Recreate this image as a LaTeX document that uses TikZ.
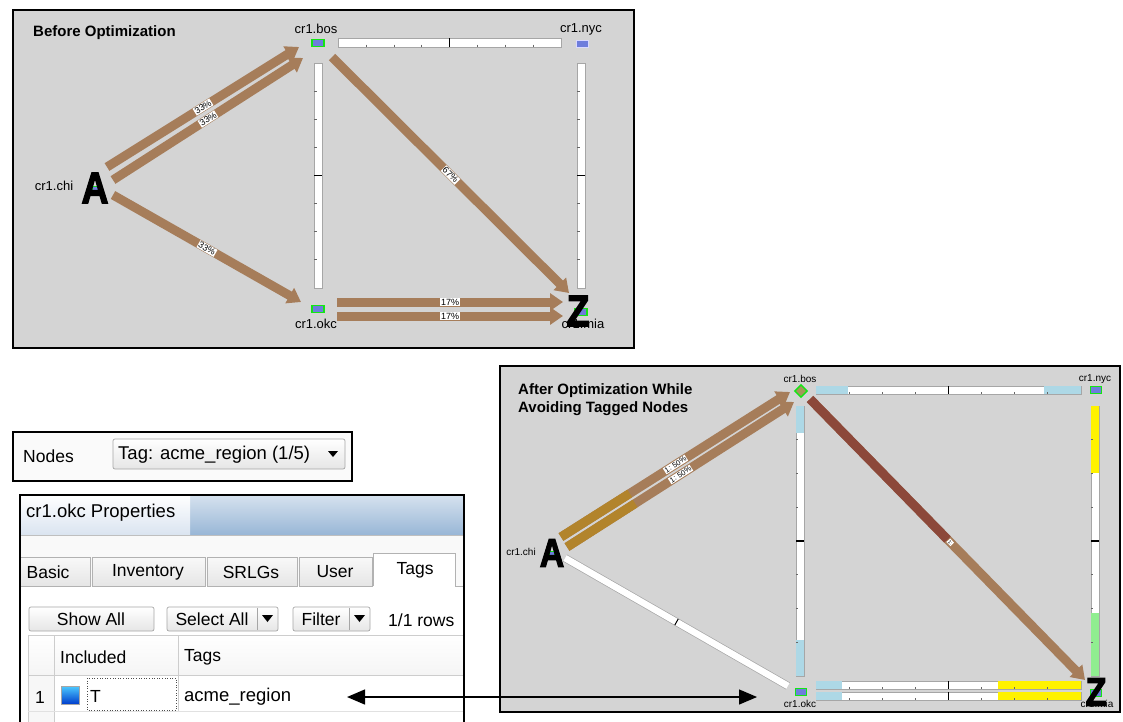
\documentclass[tikz,border=0pt]{standalone}
\usepackage{fontspec}
\setmainfont{Liberation Sans}
\newfontfamily\heavy[FakeBold=3]{Liberation Sans Bold}
\usetikzlibrary{arrows.meta,calc,shapes.geometric}
\definecolor{panelbg}{RGB}{212,212,212}
\definecolor{brownA}{RGB}{166,125,90}
\definecolor{goldA}{RGB}{178,132,44}
\definecolor{redA}{RGB}{140,72,58}
\definecolor{lblue}{RGB}{173,216,230}
\definecolor{lgreen}{RGB}{144,238,144}
\definecolor{nodeblue}{RGB}{110,125,220}
\definecolor{nodegreen}{RGB}{20,230,20}
\definecolor{diafill}{RGB}{165,150,90}
\definecolor{titleL}{RGB}{218,228,240}
\definecolor{titleR}{RGB}{152,182,214}
\definecolor{gridc}{RGB}{205,205,205}
\begin{document}
\begin{tikzpicture}[x=1pt,y=-1pt,
  panel/.style={draw=black, line width=1.4pt, fill=panelbg},
  ptitle/.style={font=\fontsize{15}{18}\selectfont\bfseries, anchor=west, inner sep=0, align=left},
  rlab/.style={font=\fontsize{13}{14}\selectfont, inner sep=0},
  rlabs/.style={font=\fontsize{10}{11}\selectfont, inner sep=0},
  bigl/.style={font=\fontsize{44}{44}\heavy, inner sep=0, xscale=0.85},
  bigs/.style={font=\fontsize{40}{40}\heavy, inner sep=0, xscale=0.85},
  rtr/.style={draw=nodegreen, line width=1.6pt, fill=nodeblue, minimum width=12pt, minimum height=7pt, inner sep=0},
  flow/.style={line width=9pt, draw=brownA, -{Triangle[length=13pt,width=17pt]}},
  flowlab/.style={sloped, fill=white, inner sep=0.8pt, font=\fontsize{9}{9}\selectfont},
  wbar/.style={draw=gray!70, fill=white, line width=0.6pt},
  tickm/.style={line width=0.6pt, black!60},
  ui/.style={font=\fontsize{17.5}{19}\selectfont, inner sep=0},
  tabst/.style={draw=gray!60, top color=white!95!gray, bottom color=gray!20, line width=0.6pt},
  btn/.style={draw=gray!70, rounded corners=2pt, top color=white, bottom color=gray!20, line width=0.7pt},
  dtri/.style={fill=black}
]
\useasboundingbox (0,0) rectangle (1123,721);
\fill[white] (0,0) rectangle (1123,721);

%================ PANEL 1 =================
\draw[panel] (13,10) rectangle (634,348);
\node[ptitle] (t1) at (33,33) {Before Optimization};
% bars
\draw[wbar] (338,38) rectangle (561,47);
\foreach \k in {1,2,3,5,6,7} \draw[tickm] ({338+\k*27.9},44.5) -- ++(0,2.5);
\draw[line width=1.3pt] (449.5,38) -- (449.5,47);
\draw[wbar] (314,63) rectangle (322,288);
\foreach \k in {1,2,3,5,6,7} \draw[tickm] (314,{63+\k*28.1}) -- ++(2.5,0);
\draw[line width=1.3pt] (314,175.5) -- (322,175.5);
\draw[wbar] (577,63) rectangle (585,288);
\foreach \k in {1,2,3,5,6,7} \draw[tickm] (577,{63+\k*28.1}) -- ++(2.5,0);
\draw[line width=1.3pt] (577,175.5) -- (585,175.5);
% flows
\coordinate (c1a) at (107,167); \coordinate (b1a) at (299,47);
\coordinate (c1b) at (113,180); \coordinate (b1b) at (303,58);
\coordinate (c1c) at (113,195); \coordinate (o1t) at (301,302);
\coordinate (b1c) at (332,57);  \coordinate (m1t) at (569,293);
\coordinate (o1a) at (337,302); \coordinate (m1a) at (563,302);
\coordinate (o1b) at (337,316); \coordinate (m1b) at (563,316);
\draw[flow] (c1a) -- node[flowlab]{33\%} (b1a);
\draw[flow] (c1b) -- node[flowlab]{33\%} (b1b);
\draw[flow] (c1c) -- node[flowlab]{33\%} (o1t);
\draw[flow] (b1c) -- node[flowlab]{67\%} (m1t);
\draw[flow] (o1a) -- node[flowlab]{17\%} (m1a);
\draw[flow] (o1b) -- node[flowlab]{17\%} (m1b);
% routers
\node[rtr] (bos1) at (318,43) {};
\node[rtr, draw=white!85!blue, line width=1pt] (nyc1) at (582,44) {};
\node[rtr] (okc1) at (318,309) {};
\node[rtr] (mia1) at (581,312) {};
\node[rtr, minimum width=7pt] (chi1) at (96,190) {};
\node[rlab] (lbos1) at (316,29) {cr1.bos};
\node[rlab] (lnyc1) at (581,29) {cr1.nyc};
\node[rlab] (lchi1) at (54,186) {cr1.chi};
\node[rlab] (lokc1) at (316,324) {cr1.okc};
\node[rlab] (lmia1) at (583,324) {cr1.mia};
\node[bigl] (A1) at (95,188) {A};
\node[bigl] (Z1) at (578,311) {Z};

%================ PANEL 2 =================
\draw[panel] (500,366) rectangle (1120,712);
\node[ptitle] (t2) at (518,400) {After Optimization While\\Avoiding Tagged Nodes};
% bos-nyc bar
\draw[wbar] (816,386) rectangle (1081,394);
\fill[lblue] (816.3,386.3) rectangle (848,393.7);
\fill[lblue] (1044,386.3) rectangle (1080.7,393.7);
\foreach \k in {1,2,3,5,6,7} \draw[tickm] ({816+\k*33.1},392) -- ++(0,2);
\draw[line width=1.1pt] (948.5,386) -- (948.5,394);
% bos vertical
\draw[wbar] (796,406) rectangle (804,676);
\fill[lblue] (796.3,406.3) rectangle (803.7,433);
\fill[lblue] (796.3,640) rectangle (803.7,675.7);
\foreach \k in {1,2,3,5,6,7} \draw[tickm] (796,{406+\k*33.75}) -- ++(2,0);
\draw[line width=1.1pt] (796,541) -- (804,541);
% nyc vertical
\draw[wbar] (1091,406) rectangle (1099,676);
\fill[yellow] (1091.3,406.3) rectangle (1098.7,473);
\fill[lgreen] (1091.3,613) rectangle (1098.7,675.7);
\foreach \k in {1,2,3,5,6,7} \draw[tickm] (1091,{406+\k*33.75}) -- ++(2,0);
\draw[line width=1.1pt] (1091,541) -- (1099,541);
% okc-mia bars
\foreach \yy in {681,692}{
  \draw[wbar] (816,\yy) rectangle (1081,\yy+8);
  \fill[lblue] (816.3,\yy+0.3) rectangle (842,\yy+7.7);
  \fill[yellow] (998,\yy+0.3) rectangle (1080.7,\yy+7.7);
  \foreach \k in {1,2,3,5,6,7} \draw[tickm] ({816+\k*33.1},\yy+6) -- ++(0,2);
  \draw[line width=1.1pt] (948.5,\yy) -- (948.5,\yy+8);
}
% chi-okc white bar
\coordinate (c2c) at (565,558); \coordinate (o2t) at (788,686);
\draw[line width=8pt, gray!70] (c2c) -- (o2t);
\draw[line width=6.6pt, white] (c2c) -- (o2t);
\path (c2c) -- node[sloped, fill=black, inner sep=0, minimum width=1pt, minimum height=7pt]{} (o2t);
% flows
\coordinate (c2a) at (561,537); \coordinate (b2a) at (790,392);
\coordinate (c2b) at (567,547); \coordinate (b2b) at (794,402);
\coordinate (b2c) at (810,399); \coordinate (m2t) at (1085,680);
\draw[flow] (c2a) -- (b2a);
\draw[line width=9pt, goldA] (c2a) -- ($(c2a)!0.3!(b2a)$);
\path (c2a) -- node[flowlab, font=\fontsize{7.5}{7.5}\selectfont]{1: 50\%} (b2a);
\draw[flow] (c2b) -- (b2b);
\draw[line width=9pt, goldA] (c2b) -- ($(c2b)!0.3!(b2b)$);
\path (c2b) -- node[flowlab, font=\fontsize{7.5}{7.5}\selectfont]{1: 50\%} (b2b);
\draw[flow] (b2c) -- (m2t);
\draw[line width=9pt, redA] (b2c) -- ($(b2c)!0.5!(m2t)$);
\path (b2c) -- node[flowlab, pos=0.51, font=\fontsize{5}{5}\selectfont]{1:} (m2t);
% routers
\node[diamond, draw=nodegreen, line width=1.4pt, fill=diafill, minimum size=13pt, inner sep=0] (bos2) at (801,391) {};
\node[rtr, minimum width=11pt, minimum height=7pt] (nyc2) at (1096,390) {};
\node[rtr, minimum width=11pt, minimum height=7pt] (okc2) at (801,692) {};
\node[rtr, minimum width=11pt, minimum height=7pt] (mia2) at (1096,693) {};
\node[rtr, minimum width=6pt] (chi2) at (552,555) {};
\node[rlabs] (lbos2) at (800,379) {cr1.bos};
\node[rlabs] (lnyc2) at (1095,379) {cr1.nyc};
\node[rlabs] (lchi2) at (521,552) {cr1.chi};
\node[rlabs] (lokc2) at (800,704) {cr1.okc};
\node[rlabs] (lmia2) at (1097,704) {cr1.mia};
\node[bigs] (A2) at (552,553) {A};
\node[bigs] (Z2) at (1096,692) {Z};

%================ NODES SELECTOR =================
\draw[line width=1.4pt, fill=white!96!gray] (13,432) rectangle (352,481);
\node[ui, anchor=west] (nodes) at (23,456) {Nodes};
\draw[btn] (113,439) rectangle (345,469);
\node[ui, anchor=west, font=\fontsize{18.5}{20}\selectfont] (tagsel) at (118,455) {Tag: acme\_region (1/5)};
\fill[dtri] (328,451) -- (338,451) -- (333,457) -- cycle;

%================ PROPERTIES =================
\fill[white] (20,495) rectangle (464,725);
\shade[top color=white!60!titleR, bottom color=titleR] (20,495) rectangle (464,535);
\shade[top color=white, bottom color=titleL] (20,495) rectangle (190,535);
\draw[gray!50] (20,535) -- (464,535);
\fill[white!95!gray] (20,535.5) rectangle (464,586);
\node[ui, anchor=west, font=\fontsize{18.5}{20}\selectfont] (ptitle) at (26,513) {cr1.okc Properties};
% tabs
\draw[tabst] (20,557) rectangle (90,586);
\draw[tabst] (92,557) rectangle (205,586);
\draw[tabst] (207,557) rectangle (297,586);
\draw[tabst] (299,557) rectangle (372,586);
\fill[white] (373,553) rectangle (455,587);
\draw[gray!60, line width=0.6pt] (373,586) -- (373,553) -- (455,553) -- (455,586) -- (464,586);
\node[ui] (tbasic) at (48,572) {Basic};
\node[ui] (tinv) at (148,572) {Inventory};
\node[ui] (tsrlg) at (251,572) {SRLGs};
\node[ui] (tuser) at (335,572) {User};
\node[ui] (ttags) at (415,570) {Tags};
% buttons
\draw[btn] (29,607) rectangle (154,631);
\node[ui] (bshow) at (91,619) {Show All};
\draw[btn] (167,607) rectangle (278,631);
\draw[gray!70] (257,608) -- (257,630);
\node[ui] (bsel) at (212,619) {Select All};
\fill[dtri] (262,615) -- (273,615) -- (267.5,622) -- cycle;
\draw[btn] (293,607) rectangle (370,631);
\draw[gray!70] (349,608) -- (349,630);
\node[ui] (bfil) at (321,619) {Filter};
\fill[dtri] (354,615) -- (365,615) -- (359.5,622) -- cycle;
\node[ui, anchor=west] (rows) at (388,620) {1/1 rows};
% table
\shade[top color=white, bottom color=white!92!gray] (28,635) rectangle (464,675);
\fill[white!94!gray] (28,675) rectangle (54,725);
\draw[gridc, line width=0.7pt] (28,635) -- (464,635);
\draw[gridc, line width=0.7pt] (28,635) -- (28,725);
\draw[gridc, line width=0.7pt] (54,635) -- (54,725);
\draw[gridc, line width=0.7pt] (178,635) -- (178,712);
\draw[gridc, line width=0.7pt] (28,675) -- (464,675);
\draw[gridc!60, line width=0.7pt] (28,711) -- (464,711);
\node[ui, anchor=west] (hinc) at (60,657) {Included};
\node[ui, anchor=west] (htags) at (184,657) {Tags};
\node[ui] (r1) at (40,697) {1};
\shade[draw=gray!70, line width=0.6pt, top color=cyan!70!blue!70, bottom color=blue!70!cyan!80!black] (61,686) rectangle (79,704);
\draw[black!70, dotted, line width=0.6pt] (87,678) rectangle (176,710);
\node[ui, anchor=west] (tval) at (90,696) {T};
\node[ui, anchor=west, font=\fontsize{18.5}{20}\selectfont] (acme) at (184,697) {acme\_region};
% outer border
\draw[line width=1.4pt] (20,725) -- (20,495) -- (464,495) -- (464,725);

%================ LINK ARROW =================
\coordinate (arrL) at (347,697);
\coordinate (arrR) at (757,697);
\draw[line width=1.4pt, {Triangle[length=18pt,width=15pt]}-{Triangle[length=18pt,width=15pt]}] (arrL) -- (arrR);
\end{tikzpicture}
\end{document}
